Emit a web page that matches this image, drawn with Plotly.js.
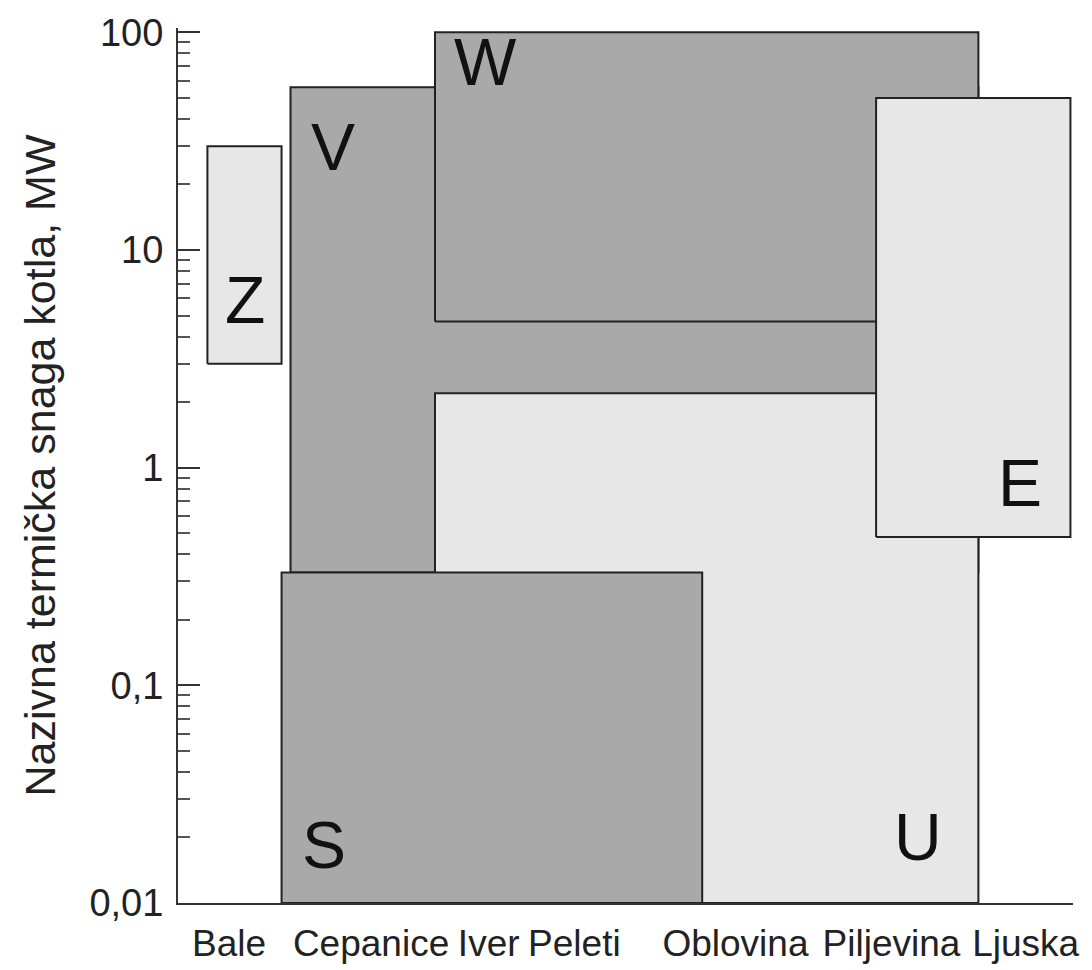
<!DOCTYPE html>
<html>
<head>
<meta charset="utf-8">
<script src="https://cdn.plot.ly/plotly-3.0.1.min.js"></script>
<style>
  html, body { margin: 0; padding: 0; background: #ffffff; }
  #chart { width: 1092px; height: 970px; }
</style>
</head>
<body>
<div id="chart"></div>
<script>
// ---- data ----
const categories = ['Bale', 'Cepanice', 'Iver', 'Peleti', 'Oblovina', 'Piljevina', 'Ljuska'];
const categoryPos = [0.40, 1.51, 2.43, 3.10, 4.36, 5.58, 6.63];

const yTickVals = [0.01, 0.1, 1, 10, 100];
const yTickText = ['0,01', '0,1', '1', '10', '100'];

// zones, drawn in this order (later ones on top)
const zoneNames = ['V', 'W', 'U', 'S', 'E', 'Z'];
const zoneX0    = [0.88, 2.01, 2.01, 0.81, 5.46, 0.23];
const zoneX1    = [6.26, 6.26, 6.26, 4.10, 6.98, 0.81];
const zoneYmin  = [0.33, 4.7,  0.01, 0.01, 0.48, 3];
const zoneYmax  = [56,   100,  2.2,  0.33, 50,   30];

// ---- styles ----
const DARK = '#a9a9a9';
const LIGHT = '#e7e7e7';
const zoneFill = { V: DARK, W: DARK, S: DARK, U: LIGHT, E: LIGHT, Z: LIGHT };
// label placement: corner of the zone + pixel offset
const labelPlace = {
  V: { cx: 'x0', cy: 'top',    dx: 42, dy: -60 },
  W: { cx: 'x0', cy: 'top',    dx: 51, dy: -30 },
  U: { cx: 'x1', cy: 'bottom', dx: -60, dy: 66 },
  S: { cx: 'x0', cy: 'bottom', dx: 42, dy: 58 },
  E: { cx: 'x1', cy: 'bottom', dx: -50, dy: 54 },
  Z: { cx: 'x0', cy: 'bottom', dx: 38, dy: 64 }
};
const FONT = 'Liberation Sans, Arial, Helvetica, sans-serif';

const traces = zoneNames.map((n, i) => ({
  type: 'scatter',
  mode: 'lines',
  x: [zoneX0[i], zoneX1[i], zoneX1[i], zoneX0[i], zoneX0[i]],
  y: [zoneYmin[i], zoneYmin[i], zoneYmax[i], zoneYmax[i], zoneYmin[i]],
  fill: 'toself',
  fillcolor: zoneFill[n],
  line: { color: '#222222', width: 2 },
  hoverinfo: 'skip',
  showlegend: false,
  name: n
}));

const annotations = zoneNames.map((n, i) => {
  const p = labelPlace[n];
  return {
    xref: 'x', yref: 'y',
    x: p.cx === 'x0' ? zoneX0[i] : zoneX1[i],
    y: Math.log10(p.cy === 'top' ? zoneYmax[i] : zoneYmin[i]),
    xshift: p.dx, yshift: p.dy,
    xanchor: 'center', yanchor: 'middle',
    text: n, showarrow: false,
    font: { family: FONT, size: 66, color: '#111111' }
  };
});

// minor ticks at 2..9 of each decade
const minorVals = [];
[0.01, 0.1, 1, 10].forEach(d => { for (let k = 2; k <= 9; k++) minorVals.push(d * k); });

const layout = {
  width: 1092, height: 970,
  margin: { l: 178, r: 19, t: 28, b: 67 },
  paper_bgcolor: '#ffffff', plot_bgcolor: '#ffffff',
  font: { family: FONT, color: '#222222' },
  showlegend: false,
  xaxis: {
    range: [0, 7],
    showgrid: false, zeroline: false,
    showline: true, linecolor: '#333333', linewidth: 2,
    ticks: '',
    tickmode: 'array', tickvals: categoryPos, ticktext: categories,
    tickfont: { family: FONT, size: 37, color: '#222222' },
    ticklabelstandoff: 7
  },
  yaxis: {
    type: 'log',
    range: [-2, 2.02],
    showgrid: false, zeroline: false,
    showline: true, linecolor: '#333333', linewidth: 2,
    ticks: 'inside', ticklen: 22, tickwidth: 2, tickcolor: '#333333',
    tickmode: 'array', tickvals: yTickVals, ticktext: yTickText,
    tickfont: { family: FONT, size: 38, color: '#222222' },
    ticklabelstandoff: 5,
    minor: { ticks: 'inside', ticklen: 12, tickwidth: 2, tickcolor: '#555555', tickmode: 'array', tickvals: minorVals, showgrid: false },
    title: { text: 'Nazivna termička snaga kotla, MW', font: { family: FONT, size: 43, color: '#222222' }, standoff: 20 }
  },
  annotations: annotations
};

Plotly.newPlot('chart', traces, layout, { displayModeBar: false, staticPlot: true });
</script>
</body>
</html>
